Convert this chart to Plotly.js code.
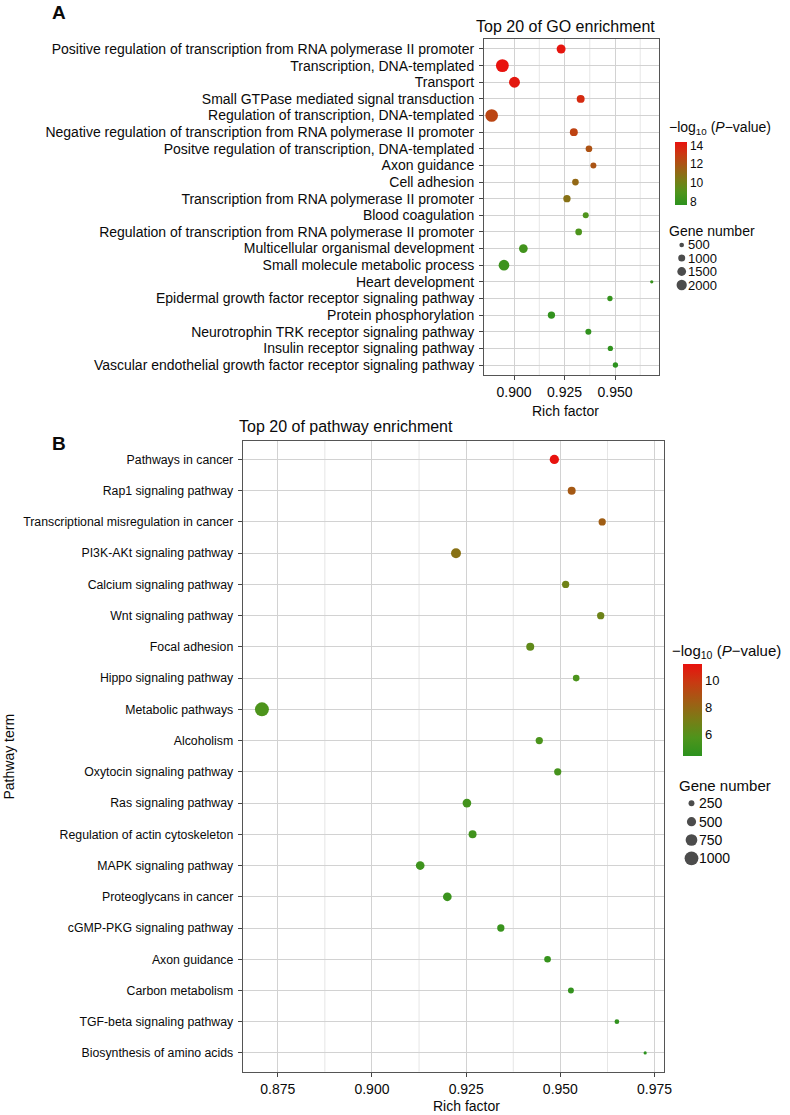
<!DOCTYPE html>
<html><head><meta charset="utf-8">
<script src="https://cdn.plot.ly/plotly-3.0.1.min.js"></script>
<style>html,body{margin:0;padding:0;background:#fff}#chart{width:790px;height:1115px}</style>
</head><body><div id="chart"></div>
<script>
// ---------- Panel A: GO enrichment ----------
const goTerms = [
  "Positive regulation of transcription from RNA polymerase II promoter",
  "Transcription, DNA-templated",
  "Transport",
  "Small GTPase mediated signal transduction",
  "Regulation of transcription, DNA-templated",
  "Negative regulation of transcription from RNA polymerase II promoter",
  "Positve regulation of transcription, DNA-templated",
  "Axon guidance",
  "Cell adhesion",
  "Transcription from RNA polymerase II promoter",
  "Blood coagulation",
  "Regulation of transcription from RNA polymerase II promoter",
  "Multicellular organismal development",
  "Small molecule metabolic process",
  "Heart development",
  "Epidermal growth factor receptor signaling pathway",
  "Protein phosphorylation",
  "Neurotrophin TRK receptor signaling pathway",
  "Insulin receptor signaling pathway",
  "Vascular endothelial growth factor receptor signaling pathway"
];
const goRichFactor = [0.9233, 0.8942, 0.9002, 0.9330, 0.8889, 0.9296, 0.9371, 0.9393, 0.9304, 0.9262,
                      0.9355, 0.9320, 0.9046, 0.8950, 0.9682, 0.9475, 0.9185, 0.9368, 0.9477, 0.9502];
const goLogP = [14.3, 14.4, 14.2, 13.6, 12.6, 12.7, 12.1, 12.0, 11.2, 10.8,
                9.0, 8.9, 8.5, 8.3, 8.1, 8.0, 7.9, 7.85, 7.8, 7.65];
const goGeneCount = [1550, 3050, 2250, 1250, 2950, 1250, 920, 760, 920, 1080,
                     760, 920, 1475, 2150, 280, 615, 1080, 760, 615, 615];
const goXTicks = [0.900, 0.925, 0.950];
const goXMinor = [0.9125, 0.9375, 0.9625];
const goColorTicks = [8, 10, 12, 14];
const goSizeBreaks = [500, 1000, 1500, 2000];

// ---------- Panel B: pathway enrichment ----------
const pwTerms = [
  "Pathways in cancer",
  "Rap1 signaling pathway",
  "Transcriptional misregulation in cancer",
  "PI3K-AKt signaling pathway",
  "Calcium signaling pathway",
  "Wnt signaling pathway",
  "Focal adhesion",
  "Hippo signaling pathway",
  "Metabolic pathways",
  "Alcoholism",
  "Oxytocin signaling pathway",
  "Ras signaling pathway",
  "Regulation of actin cytoskeleton",
  "MAPK signaling pathway",
  "Proteoglycans in cancer",
  "cGMP-PKG signaling pathway",
  "Axon guidance",
  "Carbon metabolism",
  "TGF-beta signaling pathway",
  "Biosynthesis of amino acids"
];
const pwRichFactor = [0.9484, 0.9530, 0.9611, 0.9223, 0.9514, 0.9607, 0.9420, 0.9542, 0.8708, 0.9444,
                      0.9493, 0.9252, 0.9267, 0.9128, 0.9200, 0.9342, 0.9466, 0.9528, 0.9650, 0.9725];
const pwLogP = [11.2, 8.6, 8.4, 7.6, 6.8, 6.7, 6.3, 5.7, 5.7, 5.6,
                5.4, 5.3, 5.2, 5.1, 5.0, 4.9, 4.8, 4.7, 4.6, 4.4];
const pwGeneCount = [510, 400, 345, 575, 345, 345, 400, 300, 1020, 345,
                     340, 460, 400, 460, 460, 345, 300, 255, 180, 110];
const pwXTicks = [0.875, 0.900, 0.925, 0.950, 0.975];
const pwXMinor = [0.8875, 0.9125, 0.9375, 0.9625];
const pwColorTicks = [6, 8, 10];
const pwSizeBreaks = [250, 500, 750, 1000];

// ---------- styling / geometry ----------
const W = 790, H = 1115;
const px = v => v / W, py = v => 1 - v / H;
const FONT = "Liberation Sans, Arial, Helvetica, sans-serif";
const TXT = "#0a0a0a";
const colorscale = [
  [0.00, "#2c921e"], [0.20, "#4f941c"], [0.40, "#7a7c16"],
  [0.60, "#a25c14"], [0.80, "#c83a12"], [1.00, "#e8120e"]
];
const sizeGO = n => 0.25 * Math.sqrt(n) - 0.9;
const sizePW = n => 0.5 * Math.sqrt(n) - 2.0;

const gridMajor = "#d2d2d2", gridMinor = "#e6e6e6";

function xAxisCfg(domain, range, ticks, anchor, fs) {
  return {
    domain, range, anchor, tickmode: "array", tickvals: ticks, tickformat: ".3f",
    ticks: "outside", ticklen: 4, tickwidth: 1, tickcolor: "#444",
    tickfont: {family: FONT, size: fs, color: TXT},
    showgrid: true, gridcolor: gridMajor, gridwidth: 1,
    showline: true, mirror: true, linecolor: "#555", linewidth: 1,
    zeroline: false, fixedrange: true, automargin: false
  };
}
function yAxisCfg(domain, cats, anchor, fs) {
  return {
    domain, anchor, type: "category", categoryorder: "array", categoryarray: cats,
    tickmode: "array", tickvals: cats, ticktext: cats,
    range: [cats.length - 1 + 0.6, -0.6],
    ticks: "outside", ticklen: 4, tickwidth: 1, tickcolor: "#444",
    ticklabelstandoff: 2,
    tickfont: {family: FONT, size: fs, color: TXT},
    showgrid: true, gridcolor: gridMajor, gridwidth: 1,
    showline: true, mirror: true, linecolor: "#555", linewidth: 1,
    zeroline: false, fixedrange: true, automargin: false
  };
}

const traces = [
  {
    type: "scatter", mode: "markers", x: goRichFactor, y: goTerms, xaxis: "x", yaxis: "y",
    marker: {size: goGeneCount.map(sizeGO), color: goLogP, coloraxis: "coloraxis", line: {width: 0}, opacity: 1},
    showlegend: false, hoverinfo: "skip"
  },
  {
    type: "scatter", mode: "markers", x: pwRichFactor, y: pwTerms, xaxis: "x2", yaxis: "y2",
    marker: {size: pwGeneCount.map(sizePW), color: pwLogP, coloraxis: "coloraxis2", line: {width: 0}, opacity: 1},
    showlegend: false, hoverinfo: "skip"
  }
];

// size legends (drawn on a pixel-space overlay axis)
const legA = {x: 681.7, labelX: 686, ys: [245, 258, 271.5, 285]};
const legB = {x: 691.5, labelX: 697, ys: [803.3, 821.7, 840, 858.3]};
traces.push({
  type: "scatter", mode: "markers", xaxis: "x3", yaxis: "y3",
  x: goSizeBreaks.map(() => legA.x), y: legA.ys,
  marker: {size: goSizeBreaks.map(sizeGO), color: "#000", line: {width: 0}},
  cliponaxis: false, showlegend: false, hoverinfo: "skip"
});
traces.push({
  type: "scatter", mode: "markers", xaxis: "x3", yaxis: "y3",
  x: pwSizeBreaks.map(() => legB.x), y: legB.ys,
  marker: {size: pwSizeBreaks.map(sizePW), color: "#000", line: {width: 0}},
  cliponaxis: false, showlegend: false, hoverinfo: "skip"
});

// minor vertical gridlines
const shapes = [];
goXMinor.forEach(v => shapes.push({type: "line", xref: "x", yref: "y domain", x0: v, x1: v, y0: 0, y1: 1,
  line: {color: gridMinor, width: 1}, layer: "below"}));
pwXMinor.forEach(v => shapes.push({type: "line", xref: "x2", yref: "y2 domain", x0: v, x1: v, y0: 0, y1: 1,
  line: {color: gridMinor, width: 1}, layer: "below"}));

function ann(text, x, y, size, extra) {
  return Object.assign({
    text, x: px(x), y: py(y), xref: "paper", yref: "paper", showarrow: false,
    xanchor: "center", yanchor: "middle", font: {family: FONT, size, color: TXT}
  }, extra || {});
}
const logTitle = "\u2212log<sub>10</sub> (<i>P</i>\u2212value)";
const annotations = [
  ann("<b>A</b>", 50, 13, 19, {xanchor: "left"}),
  ann("Top 20 of GO enrichment", 565.3, 26, 16),
  ann("Rich factor", 565, 410.7, 14),
  ann(logTitle, 667, 128, 14, {xanchor: "left"}),
  ann("Gene number", 667, 230.7, 14, {xanchor: "left"}),
  ann("<b>B</b>", 50, 444, 19, {xanchor: "left"}),
  ann("Top 20 of pathway enrichment", 237, 426, 16, {xanchor: "left"}),
  ann("Rich factor", 466, 1106, 14),
  ann("Pathway term", 8, 756.5, 14, {textangle: -90}),
  ann(logTitle, 670, 651.7, 15, {xanchor: "left"}),
  ann("Gene number", 676.5, 785.7, 15, {xanchor: "left"})
];
goSizeBreaks.forEach((b, i) => annotations.push(ann(String(b), legA.labelX, legA.ys[i], 13, {xanchor: "left"})));
pwSizeBreaks.forEach((b, i) => annotations.push(ann(String(b), legB.labelX, legB.ys[i], 14, {xanchor: "left"})));

const layout = {
  width: W, height: H,
  margin: {l: 0, r: 0, t: 0, b: 0},
  paper_bgcolor: "#fff", plot_bgcolor: "rgba(0,0,0,0)",
  font: {family: FONT, color: TXT},
  showlegend: false,
  xaxis: xAxisCfg([px(484), px(659)], [0.8851, 0.9718], goXTicks, "y", 14),
  yaxis: yAxisCfg([py(375), py(39)], goTerms, "x", 14),
  xaxis2: xAxisCfg([px(242.7), px(664)], [0.8657, 0.9775], pwXTicks, "y2", 14),
  yaxis2: yAxisCfg([py(1071.7), py(440.7)], pwTerms, "x2", 12.3),
  xaxis3: {domain: [0, 1], range: [0, W], visible: false, showgrid: false, fixedrange: true, anchor: "y3"},
  yaxis3: {domain: [0, 1], range: [H, 0], visible: false, showgrid: false, fixedrange: true, anchor: "x3"},
  coloraxis: {
    colorscale, cmin: Math.min(...goLogP), cmax: Math.max(...goLogP),
    colorbar: {
      x: px(675), xanchor: "left", y: py(141.7), yanchor: "top",
      len: 63, lenmode: "pixels", thickness: 12, thicknessmode: "pixels",
      xpad: 0, ypad: 0, outlinewidth: 0, ticks: "", tickvals: goColorTicks,
      tickfont: {family: FONT, size: 12, color: TXT}
    }
  },
  coloraxis2: {
    colorscale, cmin: Math.min(...pwLogP), cmax: Math.max(...pwLogP),
    colorbar: {
      x: px(682.7), xanchor: "left", y: py(664), yanchor: "top",
      len: 91.7, lenmode: "pixels", thickness: 19, thicknessmode: "pixels",
      xpad: 0, ypad: 0, outlinewidth: 0, ticks: "", tickvals: pwColorTicks,
      tickfont: {family: FONT, size: 13, color: TXT}
    }
  },
  shapes,
  annotations
};

Plotly.newPlot("chart", traces, layout, {staticPlot: true, displayModeBar: false});
</script>
</body></html>
